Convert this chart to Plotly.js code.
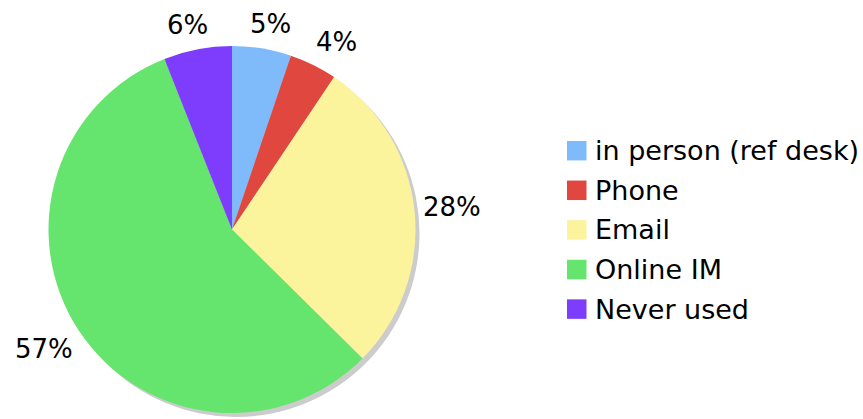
<!DOCTYPE html>
<html>
<head>
<meta charset="utf-8">
<script src="https://cdn.plot.ly/plotly-3.0.1.min.js"></script>
<style>html,body{margin:0;padding:0;background:#fff;}#chart{width:863px;height:419px;}</style>
</head>
<body>
<div id="chart"></div>
<script>
var labels = ["in person (ref desk)", "Phone", "Email", "Online IM", "Never used"];
var values = [5.2, 4.2, 28.0, 56.6, 6.0];
var colors = ["#7fbbfa", "#e0483f", "#fbf49c", "#65e46e", "#7e3dfc"];

var W = 863, H = 419;
var cx = 232, cy = 229.5, r = 183.5;
var dom = {x: [(cx - r) / W, (cx + r) / W], y: [(H - cy - r) / H, (H - cy + r) / H]};
var sh = 4;
var FONT = "DejaVu Sans";

var shadow = {
  type: "pie", values: [1], labels: ["shadow"], sort: false,
  marker: {colors: ["#cccccc"], line: {width: 0}},
  textinfo: "none", hoverinfo: "skip", showlegend: false,
  domain: {x: [dom.x[0] + sh / W, dom.x[1] + sh / W], y: [dom.y[0] - sh / H, dom.y[1] - sh / H]}
};

var pie = {
  type: "pie", values: values, labels: labels, sort: false, direction: "clockwise", rotation: 0,
  marker: {colors: colors, line: {width: 0}},
  textinfo: "none", hoverinfo: "skip",
  showlegend: false,
  domain: dom
};

var shapes = [], annotations = [];

function clamp(v) { return Math.max(-1, Math.min(1, v)); }

// percent labels outside the pie, placed along each slice's mid angle
var total = values.reduce(function (a, b) { return a + b; }, 0);
var pfs = 26, R = 198, cum = 0;
for (var k = 0; k < values.length; k++) {
  var mid = (cum + values[k] / 2) / total * 2 * Math.PI;
  cum += values[k];
  var txt = Math.round(values[k] / total * 100) + "%";
  var w = pfs * (0.636 * (txt.length - 1) + 0.95), h = pfs * 0.8;
  var ux = Math.sin(mid), uy = -Math.cos(mid);
  var px = cx + R * ux + 0.8 * (w / 2) * clamp(2.5 * ux);
  var py = cy + R * uy + (h / 2) * clamp(2.5 * uy);
  annotations.push({xref: "paper", yref: "paper", x: px / W, y: (H - py) / H,
    xanchor: "center", yanchor: "middle", showarrow: false, text: txt,
    font: {family: FONT, size: pfs, color: "#000"}});
}

// legend
var lx = 567, ly0 = 150.7, dy = 39.6, sq = 19.5;
for (var i = 0; i < labels.length; i++) {
  var yc = ly0 + i * dy;
  shapes.push({type: "rect", xref: "paper", yref: "paper",
    x0: lx / W, x1: (lx + sq) / W, y0: (H - yc - sq / 2) / H, y1: (H - yc + sq / 2) / H,
    fillcolor: colors[i], line: {width: 0}});
  annotations.push({xref: "paper", yref: "paper", x: 593 / W, y: (H - yc) / H,
    xanchor: "left", yanchor: "middle", showarrow: false, text: labels[i],
    font: {family: FONT, size: 27, color: "#000"}});
}

var layout = {
  width: W, height: H, margin: {l: 0, r: 0, t: 0, b: 0},
  paper_bgcolor: "#fff", showlegend: false,
  shapes: shapes, annotations: annotations
};

Plotly.newPlot("chart", [shadow, pie], layout, {displayModeBar: false, staticPlot: true});
</script>
</body>
</html>
